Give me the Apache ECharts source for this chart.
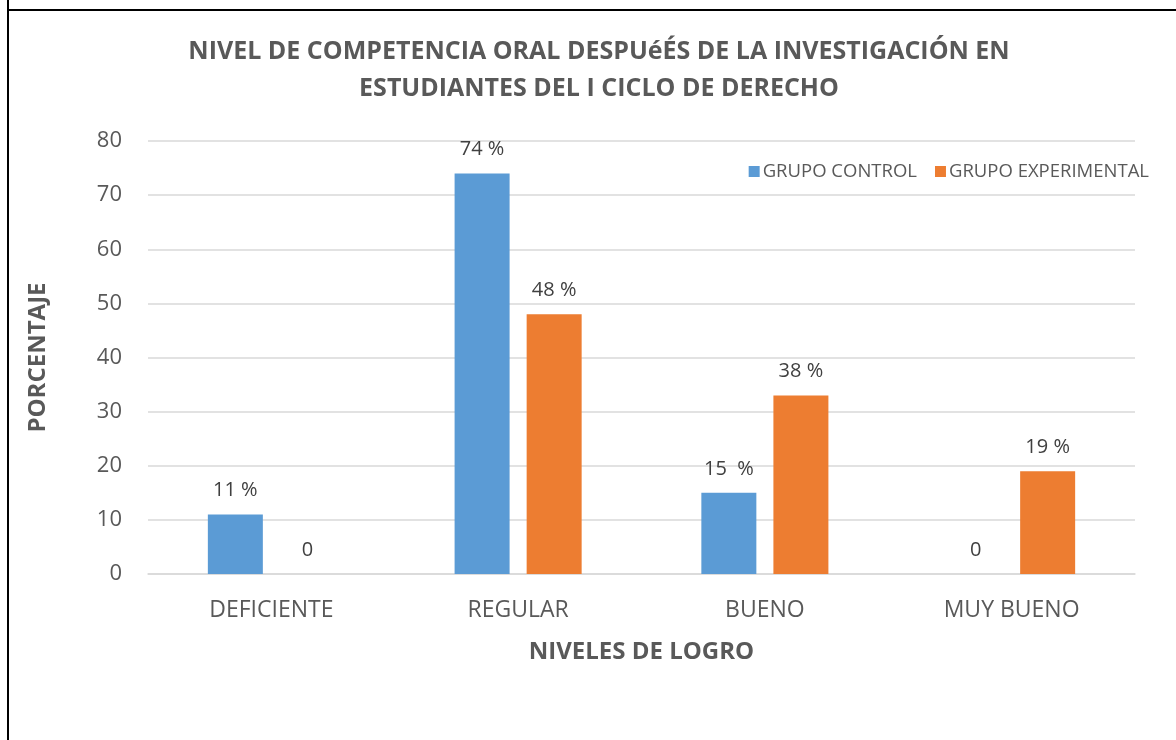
<!DOCTYPE html>
<html>
<head>
<meta charset="utf-8">
<script src="https://cdn.jsdelivr.net/npm/echarts@6/dist/echarts.min.js"></script>
<style>
  html, body { margin: 0; padding: 0; background: #fff; }
  #chart { width: 1176px; height: 740px; }
</style>
</head>
<body>
<div id="chart"></div>
<script>
var categories = ['DEFICIENTE', 'REGULAR', 'BUENO', 'MUY BUENO'];
var controlValues = [11, 74, 15, 0];
var experimentalValues = [0, 48, 33, 19];
var controlLabels = ['11 %', '74 %', '15  %', '0'];
var experimentalLabels = ['0', '48 %', '38 %', '19 %'];
var yTicks = [0, 80, 10]; // min, max, interval

var myChart = echarts.init(document.getElementById('chart'));
var textColor = '#595959';
var fontFamily = '"Open Sans", "Noto Sans", sans-serif';

function labelFrom(list) {
    return function (p) { return list[p.dataIndex]; };
}

myChart.setOption({
    animation: false,
    textStyle: { fontFamily: fontFamily },
    title: {
        text: 'NIVEL DE COMPETENCIA ORAL DESPUéÉS DE LA INVESTIGACIÓN EN\nESTUDIANTES DEL I CICLO DE DERECHO',
        left: 594,
        textAlign: 'center',
        top: 28,
        textStyle: {
            fontSize: 25,
            fontWeight: 'bold',
            color: textColor,
            lineHeight: 37,
            fontFamily: fontFamily
        }
    },
    legend: {
        right: 22,
        top: 157,
        itemWidth: 11,
        itemHeight: 11,
        itemGap: 18,
        icon: 'rect',
        textStyle: { fontSize: 18.5, color: textColor, padding: [0, 0, 0, -2] },
        data: ['GRUPO CONTROL', 'GRUPO EXPERIMENTAL']
    },
    graphic: [
        { type: 'line', shape: { x1: 8, y1: 0, x2: 8, y2: 740 }, style: { stroke: '#000', lineWidth: 2 } },
        { type: 'line', shape: { x1: 7, y1: 10, x2: 1176, y2: 10 }, style: { stroke: '#000', lineWidth: 2 } }
    ],
    grid: { left: 148, right: 41, top: 141, bottom: 166 },
    xAxis: {
        type: 'category',
        data: categories,
        name: 'NIVELES DE LOGRO',
        nameLocation: 'middle',
        nameGap: 66,
        nameTextStyle: { fontSize: 24, fontWeight: 'bold', color: textColor },
        axisLine: { lineStyle: { color: '#d9d9d9', width: 1.5 } },
        axisTick: { show: false },
        axisLabel: { fontSize: 23, color: textColor, margin: 25 }
    },
    yAxis: {
        type: 'value',
        min: yTicks[0],
        max: yTicks[1],
        interval: yTicks[2],
        name: 'PORCENTAJE',
        nameLocation: 'middle',
        nameGap: 98,
        nameRotate: 90,
        nameTextStyle: { fontSize: 24, fontWeight: 'bold', color: textColor },
        axisLine: { show: false },
        axisTick: { show: false },
        axisLabel: { fontSize: 22, color: textColor, margin: 26 },
        splitLine: { lineStyle: { color: '#d9d9d9', width: 1.5 } }
    },
    series: [
        {
            name: 'GRUPO CONTROL',
            type: 'bar',
            barWidth: 55,
            barGap: '31%',
            itemStyle: { color: '#5B9BD5' },
            label: {
                show: true,
                position: 'top',
                distance: 14,
                fontSize: 20,
                color: '#404040',
                formatter: labelFrom(controlLabels)
            },
            data: controlValues
        },
        {
            name: 'GRUPO EXPERIMENTAL',
            type: 'bar',
            barWidth: 55,
            itemStyle: { color: '#ED7D31' },
            label: {
                show: true,
                position: 'top',
                distance: 14,
                fontSize: 20,
                color: '#404040',
                formatter: labelFrom(experimentalLabels)
            },
            data: experimentalValues
        }
    ]
});
</script>
</body>
</html>
